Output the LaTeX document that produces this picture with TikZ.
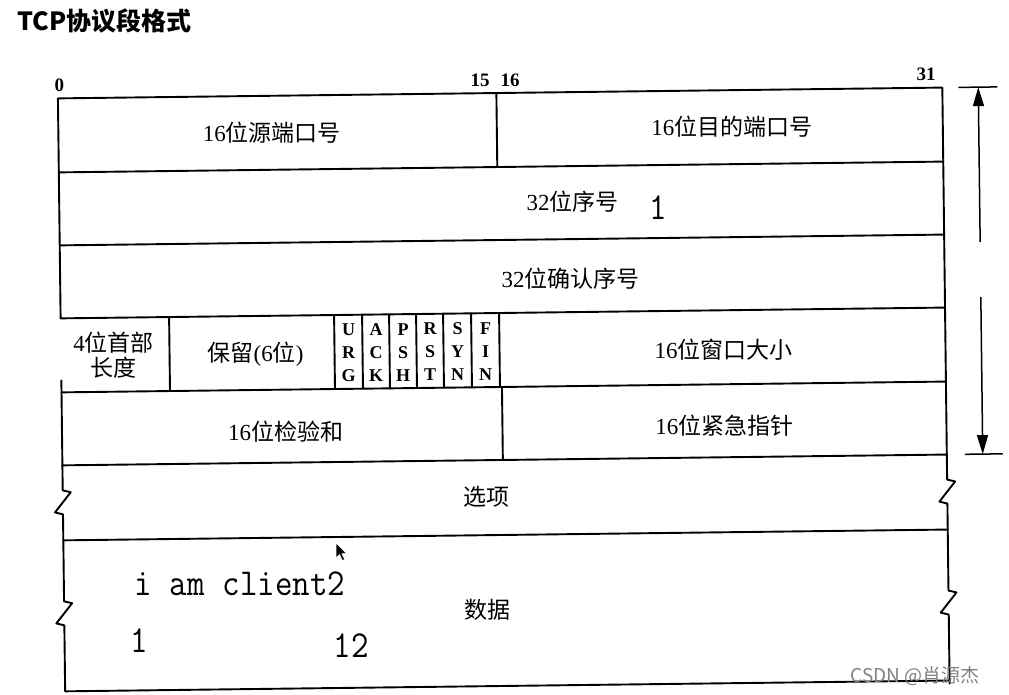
\documentclass[tikz,border=0pt]{standalone}
\usepackage{fontspec}
\usepackage{graphicx}
\setmainfont{Liberation Serif}
\newfontfamily\cjk{Noto Sans CJK SC}
\newcommand\zhtxt[1]{{\cjk #1}}
\usetikzlibrary{arrows.meta}
\begin{document}
\begin{tikzpicture}[x=1pt,y=-1pt,
  tbl/.style={line width=1.9pt, line join=round, line cap=round},
  cell/.style={inner sep=0pt, font=\fontsize{23}{26}\selectfont},
  flag/.style={inner sep=0pt, align=center, font=\bfseries\fontsize{18}{23}\selectfont},
  bitno/.style={inner sep=0pt, font=\bfseries\fontsize{19}{19}\selectfont},
  typed/.style={inner sep=0pt, font=\ttfamily\fontsize{34}{34}\selectfont},
  dimarr/.style={line width=1.5pt, -{Triangle[width=11pt,length=19pt]}},
  bar/.style={line width=1.5pt}]
\useasboundingbox (0,0) rectangle (1009,694);

% title
\node[anchor=west, inner sep=0pt] (title) at (17,21)
  {\cjk\bfseries\fontsize{25}{25}\selectfont TCP协议段格式};

\begin{scope}[rotate around={0.7:(500,390)}]
  % bit numbers
  \node[bitno] (b0)  at (63,80) {0};
  \node[bitno] (b15) at (484,80) {15};
  \node[bitno] (b16) at (514,80) {16};
  \node[bitno] (b31) at (930,80) {31};

  % outline
  \draw[tbl] (61.5,313) -- (61.5,93) -- (946,93)
     -- (946,485) -- (954,487) -- (938,507) -- (946,509)
     -- (946,596) -- (954,598) -- (938,618) -- (946,620)
     -- (946,689) ;
  \draw[tbl] (946,686) -- (61.5,686)
     -- (61.5,620) -- (53.5,618) -- (69.5,598) -- (61.5,596)
     -- (61.5,509) -- (53.5,507) -- (69.5,487) -- (61.5,485)
     -- (61.5,375);
  % row separators
  \foreach \yy in {167,240,313,387,460,535}
    \draw[tbl] (61.5,\yy) -- (946,\yy);
  % vertical dividers
  \draw[tbl] (500,93) -- (500,167);
  \foreach \xx in {170,335,363,390,417,444,472,500}
    \draw[tbl] (\xx,313) -- (\xx,387);
  \draw[tbl] (502,387) -- (502,460);

  % cell texts
  \node[cell] (src) at (275,130) {16\zhtxt{位源端口号}};
  \node[cell] (dst) at (735,130) {16\zhtxt{位目的端口号}};
  \node[cell] (seq) at (575,203) {32\zhtxt{位序号}};
  \node[cell] (ackn) at (572,280) {32\zhtxt{位确认序号}};
  \node[cell, align=center, font=\fontsize{23}{25}\selectfont] (hlen) at (114,350)
     {4\zhtxt{位首部}\\\zhtxt{长度}};
  \node[cell] (resv) at (256,351) {\zhtxt{保留}(6\zhtxt{位})};
  \node[flag] (furg) at (349,351) {U\\R\\G};
  \node[flag] (fack) at (376.5,351) {A\\C\\K};
  \node[flag] (fpsh) at (403.5,351) {P\\S\\H};
  \node[flag] (frst) at (430.5,351) {R\\S\\T};
  \node[flag] (fsyn) at (458,351) {S\\Y\\N};
  \node[flag] (ffin) at (486,351) {F\\I\\N};
  \node[cell] (win) at (724,352) {16\zhtxt{位窗口大小}};
  \node[cell] (csum) at (285,429) {16\zhtxt{位检验和}};
  \node[cell] (urgp) at (724,428) {16\zhtxt{位紧急指针}};
  \node[cell] (opt) at (485,497) {\zhtxt{选项}};
  \node[cell] (data) at (485,610) {\zhtxt{数据}};

  % dimension arrow
  \coordinate (atl) at (962,93);
  \coordinate (atr) at (1001,93);
  \coordinate (abl) at (964,460);
  \coordinate (abr) at (1002,460);
  \coordinate (atop) at (982,93);
  \coordinate (aup) at (982,248);
  \coordinate (adn) at (982,303);
  \coordinate (abot) at (982,460);
  \draw[bar] (atl) -- (atr);
  \draw[bar] (abl) -- (abr);
  \draw[dimarr] (aup) -- (atop);
  \draw[dimarr] (adn) -- (abot);
\end{scope}

% typed overlay text
\node[typed] (t1) at (658,208) {\scalebox{1}[1.12]{1}};
\node[typed] (tclient) at (240,584) {\scalebox{1}[1.12]{i am client2}};
\node[typed] (t2) at (139,641) {\scalebox{1}[1.12]{1}};
\node[typed] (t3) at (351,646) {\scalebox{1}[1.12]{12}};

% mouse cursor
\filldraw[fill=black, draw=white, line width=0.6pt] (336,543) -- ++(0,15) -- ++(3.5,-3.5)
  -- ++(2.8,6) -- ++(2.4,-1.1) -- ++(-2.8,-5.8) -- ++(4.8,0) -- cycle;

% watermark
\node[inner sep=0pt, text=black!50] (wm) at (915,676)
  {\cjk\fontsize{19}{19}\selectfont CSDN @肖源杰};
\end{tikzpicture}
\end{document}
